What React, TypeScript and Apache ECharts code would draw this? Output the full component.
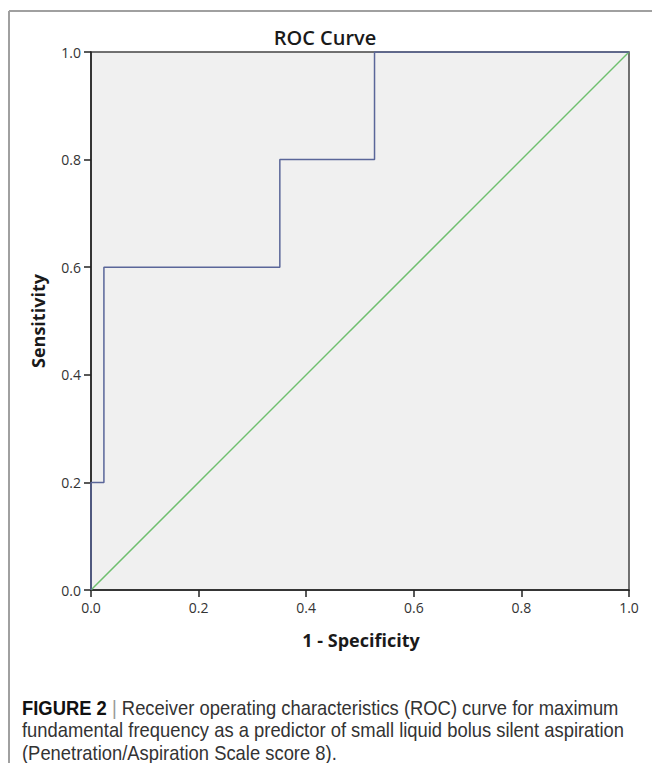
import React, { useEffect, useRef } from "react";
import * as echarts from "echarts";

const rocFpr = [0, 0, 0.024, 0.024, 0.351, 0.351, 0.527, 0.527, 1];
const rocTpr = [0, 0.2, 0.2, 0.6, 0.6, 0.8, 0.8, 1, 1];
const refFpr = [0, 1];
const refTpr = [0, 1];

const chartTitle = "ROC Curve";
const xTitle = "1 - Specificity";
const yTitle = "Sensitivity";
const captionLead = "FIGURE 2";
const captionLines = [
  "Receiver operating characteristics (ROC) curve for maximum",
  "fundamental frequency as a predictor of small liquid bolus silent aspiration",
  "(Penetration/Aspiration Scale score 8).",
];

export default function App() {
  const ref = useRef<HTMLDivElement>(null);
  useEffect(() => {
    if (!ref.current) return;
    const chart = echarts.init(ref.current, null, { renderer: "svg" });
    const axisCommon = {
      type: "value" as const,
      min: 0,
      max: 1,
      interval: 0.2,
      axisLine: { show: true, onZero: false, lineStyle: { color: "#222", width: 1.5 } },
      axisTick: { show: true, inside: false, length: 7, lineStyle: { color: "#222", width: 1.5 } },
      splitLine: { show: false },
      axisLabel: {
        formatter: (v: number) => v.toFixed(1),
        color: "#333",
        fontFamily: "Open Sans",
        fontSize: 14,
      },
    };
    const captionFont = "'Liberation Sans Narrow', 'Liberation Sans', sans-serif";
    const capSize = 20;
    const capScale = 0.92;
    chart.setOption({
      animation: false,
      backgroundColor: "#fff",
      grid: {
        left: 91,
        top: 52,
        width: 538,
        height: 538,
        show: true,
        backgroundColor: "#f0f0f0",
        borderColor: "#444",
        borderWidth: 1.5,
      },
      xAxis: { ...axisCommon, axisLabel: { ...axisCommon.axisLabel, margin: 10 } },
      yAxis: { ...axisCommon, axisLabel: { ...axisCommon.axisLabel, margin: 10 } },
      series: [
        {
          type: "line",
          data: refFpr.map((x, i) => [x, refTpr[i]]),
          symbol: "none",
          lineStyle: { color: "#6fbf6f", width: 1.5 },
          z: 2,
        },
        {
          type: "line",
          data: rocFpr.map((x, i) => [x, rocTpr[i]]),
          symbol: "none",
          lineStyle: { color: "#5a6699", width: 1.5 },
          z: 3,
        },
      ],
      graphic: [
        { type: "line", shape: { x1: 9, y1: 11, x2: 652, y2: 11 }, style: { stroke: "#a0a0a0", lineWidth: 2 } },
        { type: "line", shape: { x1: 9, y1: 11, x2: 9, y2: 763 }, style: { stroke: "#a0a0a0", lineWidth: 2 } },
        {
          type: "text",
          x: 325,
          y: 37,
          style: {
            text: chartTitle,
            fontFamily: "Open Sans",
            fontWeight: 600,
            fontSize: 20,
            fill: "#1a1a1a",
            align: "center",
            verticalAlign: "middle",
          },
        },
        {
          type: "text",
          x: 38,
          y: 321,
          rotation: Math.PI / 2,
          style: {
            text: yTitle,
            fontFamily: "Open Sans",
            fontWeight: 700,
            fontSize: 18,
            fill: "#1a1a1a",
            align: "center",
            verticalAlign: "middle",
          },
        },
        {
          type: "text",
          x: 361,
          y: 640,
          style: {
            text: xTitle,
            fontFamily: "Open Sans",
            fontWeight: 700,
            fontSize: 18,
            fill: "#1a1a1a",
            align: "center",
            verticalAlign: "middle",
          },
        },
        {
          type: "text",
          x: 22,
          y: 708,
          scaleX: capScale,
          style: {
            text: `{b|${captionLead}} {p||} ${captionLines[0]}`,
            fontFamily: captionFont,
            fontSize: capSize,
            fill: "#333",
            verticalAlign: "middle",
            rich: {
              b: { fontFamily: captionFont, fontWeight: 700, fontSize: capSize, fill: "#111" },
              p: { fontFamily: captionFont, fontSize: capSize, fill: "#999" },
            },
          },
        },
        {
          type: "text",
          x: 22,
          y: 730,
          scaleX: capScale,
          style: { text: captionLines[1], fontFamily: captionFont, fontSize: capSize, fill: "#333", verticalAlign: "middle" },
        },
        {
          type: "text",
          x: 22,
          y: 753,
          scaleX: capScale,
          style: { text: captionLines[2], fontFamily: captionFont, fontSize: capSize, fill: "#333", verticalAlign: "middle" },
        },
      ],
    });
    return () => chart.dispose();
  }, []);
  return (
    <div
      ref={ref}
      style={{ position: "absolute", left: 0, top: 0, width: 652, height: 763, background: "#fff" }}
    />
  );
}
